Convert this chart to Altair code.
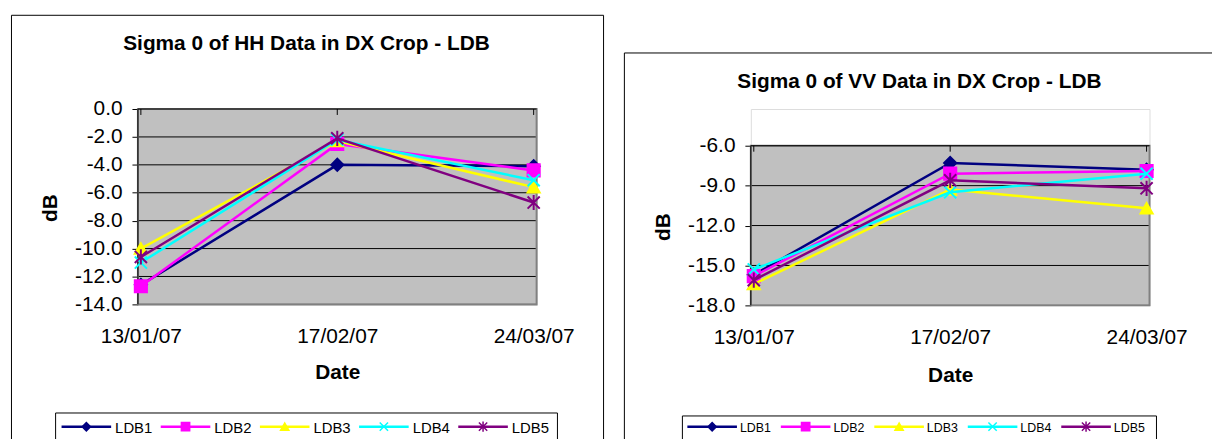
import altair as alt
import pandas as pd

# ---------------- data ----------------
dates = ["13/01/07", "17/02/07", "24/03/07"]
series = ["LDB1", "LDB2", "LDB3", "LDB4", "LDB5"]

hh_ldb1 = [-12.6, -4.0, -4.1]
hh_ldb2 = [-12.7, -2.5, -4.4]
hh_ldb3 = [-10.0, -2.3, -5.6]
hh_ldb4 = [-11.0, -2.2, -5.1]
hh_ldb5 = [-10.6, -2.1, -6.7]

vv_ldb1 = [-15.7, -7.3, -7.8]
vv_ldb2 = [-15.8, -8.1, -7.9]
vv_ldb3 = [-16.4, -9.3, -10.7]
vv_ldb4 = [-15.3, -9.5, -8.1]
vv_ldb5 = [-16.1, -8.6, -9.2]

hh_ticks = [0.0, -2.0, -4.0, -6.0, -8.0, -10.0, -12.0, -14.0]
vv_ticks = [-6.0, -9.0, -12.0, -15.0, -18.0]

hh_title = "Sigma 0 of HH Data in DX Crop - LDB"
vv_title = "Sigma 0 of VV Data in DX Crop - LDB"
x_title = "Date"
y_title = "dB"

# ---------------- styles ----------------
colors = ["#000080", "#FF00FF", "#FFFF00", "#00FFFF", "#800080"]
X_PATH = "M-1,-1L1,1M-1,1L1,-1"
STAR_PATH = "M-1,-1L1,1M-1,1L1,-1M0,-1.25L0,1.25"
shapes = ["diamond", "square", "triangle-up", X_PATH, STAR_PATH]
FONT = "Liberation Sans"
W = 402


def one(name="x"):
    return pd.DataFrame({"s": [name]})


def panel(vals, ticks, title, top, H, leg):
    ymax, ymin = ticks[0], ticks[-1]
    yscale = alt.Scale(domain=[ymin, ymax], range=[H, top], nice=False, zero=False)
    xscale = alt.Scale(type="point", domain=dates, padding=0.015)
    yax = alt.Axis(values=ticks, domain=False, grid=False, tickColor="black", tickSize=6,
                   tickWidth=1, labelPadding=10, labelFontSize=21, labelColor="black",
                   labelFont=FONT, labelOverlap=False,
                   labelExpr="replace(format(datum.value, '.1f'), '\u2212', '-')",
                   title=y_title, titleFont=FONT, titleFontSize=21, titleFontWeight="bold",
                   titleColor="black", titleX=-88, titleY=top + (H - top) / 2 + 1,
                   titleAngle=270, titleAlign="center", titleBaseline="middle")
    xax = alt.Axis(orient="bottom", domain=False, ticks=False, tickSize=0, labelPadding=32,
                   labelBaseline="middle", labelFontSize=21, labelAngle=0, labelColor="black",
                   labelFont=FONT, labelOverlap=False,
                   title=x_title, titleFont=FONT, titleFontSize=21, titleFontWeight="bold",
                   titleColor="black", titleX=W / 2, titleY=leg["date_y"],
                   titleAlign="center", titleBaseline="middle")

    def Y(field="v"):
        return alt.Y(f"{field}:Q", scale=yscale, axis=yax)

    def X():
        return alt.X("date:N", scale=xscale, axis=xax)

    layers = []
    # chart-area border (outer frame)
    b = leg["border"]
    layers.append(alt.Chart(one()).mark_rule(color="black", strokeWidth=1).encode(
        x=alt.value(b["l"]), y=alt.value(b["t"]), y2=alt.value(b["b"])))
    layers.append(alt.Chart(one()).mark_rule(color="black", strokeWidth=1).encode(
        x=alt.value(b["l"]), x2=alt.value(b["r"]), y=alt.value(b["t"])))
    if b.get("right", False):
        layers.append(alt.Chart(one()).mark_rule(color="black", strokeWidth=1).encode(
            x=alt.value(b["r"]), y=alt.value(b["t"]), y2=alt.value(b["b"])))
    # chart title
    layers.append(alt.Chart(pd.DataFrame({"t": [title]})).mark_text(
        font=FONT, fontSize=21, fontWeight="bold", align="center", baseline="middle",
        color="black").encode(text="t:N", x=alt.value(leg["title_x"]), y=alt.value(top + leg["title_dy"])))
    # plot background
    layers.append(alt.Chart(one()).mark_rect(fill="#C0C0C0", strokeWidth=0).encode(
        x=alt.value(0), x2=alt.value(W),
        y=alt.YDatum(ymax, type="quantitative", scale=yscale, axis=yax), y2=alt.Y2Datum(ymin)))
    # gridlines
    layers.append(alt.Chart(pd.DataFrame({"v": ticks})).mark_rule(color="black", strokeWidth=1).encode(
        y=Y(), x=alt.value(0), x2=alt.value(W)))
    # gray plot border
    layers.append(alt.Chart(one()).mark_rect(fillOpacity=0, stroke="#808080", strokeWidth=2).encode(
        x=alt.value(0), x2=alt.value(W),
        y=alt.YDatum(ymax, type="quantitative", scale=yscale, axis=yax), y2=alt.Y2Datum(ymin)))
    # value axis line (left) and category axis line (top)
    layers.append(alt.Chart(one()).mark_rule(color="black", strokeWidth=1).encode(
        x=alt.value(0),
        y=alt.YDatum(ymax, type="quantitative", scale=yscale, axis=yax), y2=alt.Y2Datum(ymin)))
    layers.append(alt.Chart(one()).mark_rule(color="black", strokeWidth=1).encode(
        x=alt.value(0), x2=alt.value(W),
        y=alt.YDatum(ymax, type="quantitative", scale=yscale, axis=yax)))
    # category ticks (pointing into the plot)
    layers.append(alt.Chart(pd.DataFrame({"date": dates})).mark_rule(color="black", strokeWidth=1).encode(
        x=X(), y=alt.value(top), y2=alt.value(top + 6)))
    # series
    for name, v, c, sh in zip(series, vals, colors, shapes):
        d = pd.DataFrame({"date": dates, "v": v})
        layers.append(alt.Chart(d).mark_line(color=c, strokeWidth=2.5).encode(x=X(), y=Y()))
        layers.append(alt.Chart(d).mark_point(filled=True, fill=c, stroke=c, shape=sh, size=150,
                                              strokeWidth=2, opacity=1).encode(x=X(), y=Y()))
    # legend
    layers.append(alt.Chart(one()).mark_rect(fill="white", stroke="black", strokeWidth=1).encode(
        x=alt.value(leg["l"]), x2=alt.value(leg["r"]), y=alt.value(leg["t"]), y2=alt.value(leg["b"])))
    for i, (name, c, sh) in enumerate(zip(series, colors, shapes)):
        lx = leg["x0"] + i * leg["step"]
        ly = leg["ly"]
        layers.append(alt.Chart(one(name)).mark_rule(color=c, strokeWidth=2.5).encode(
            x=alt.value(lx), x2=alt.value(lx + 50), y=alt.value(ly)))
        layers.append(alt.Chart(one(name)).mark_point(filled=True, fill=c, stroke=c, shape=sh,
                                                      size=70, strokeWidth=1.5, opacity=1).encode(
            x=alt.value(lx + 25), y=alt.value(ly)))
        layers.append(alt.Chart(one(name)).mark_text(font=FONT, fontSize=leg["fs"], align="left",
                                                     baseline="middle", color="black").encode(
            text="s:N", x=alt.value(lx + leg["lab"]), y=alt.value(ly + 1)))
    return alt.layer(*layers).properties(width=W, height=H)


left = panel([hh_ldb1, hh_ldb2, hh_ldb3, hh_ldb4, hh_ldb5], hh_ticks, hh_title, 0, 197,
             dict(border=dict(l=-127.5, r=469.5, t=-94.5, b=338, right=True),
                  title_x=170, title_dy=-65.8, date_y=69,
                  l=-83, r=423, t=306.5, b=345, x0=-77, step=100, ly=320.3, fs=15, lab=54))
right = panel([vv_ldb1, vv_ldb2, vv_ldb3, vv_ldb4, vv_ldb5], vv_ticks, vv_title, 37, 198,
              dict(border=dict(l=-127.5, r=465, t=-56.5, b=338, right=False),
                   title_x=170, title_dy=-64.3, date_y=70.5,
                   l=-69, r=409, t=309.5, b=345, x0=-64, step=94.25, ly=320.3, fs=12.5, lab=53))

chart = alt.hconcat(left, right, spacing=216, bounds="flush").properties(
    padding={"left": 2, "top": 4, "right": 0, "bottom": 0}
).configure_view(strokeWidth=0).configure(font=FONT)

chart.save("out.html", embed_options={"renderer": "svg", "actions": False})
